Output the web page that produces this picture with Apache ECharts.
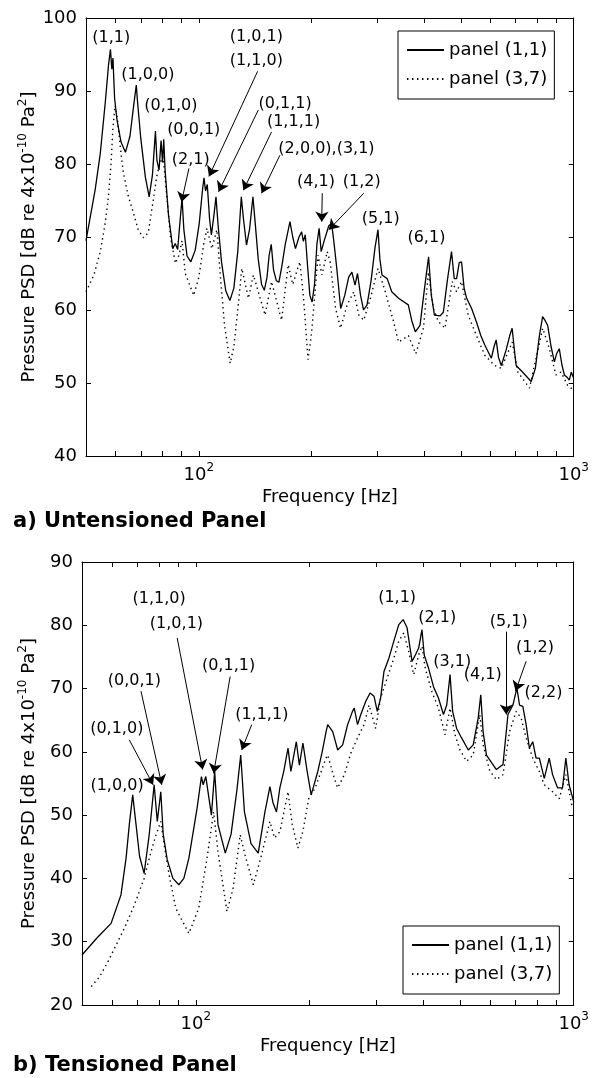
<!DOCTYPE html>
<html><head><meta charset="utf-8">
<script src="https://cdn.jsdelivr.net/npm/echarts@6/dist/echarts.min.js"></script>
<style>html,body{margin:0;padding:0;background:#fff}#c{width:592px;height:1078px}</style>
</head><body><div id="c"></div>
<script>
// ---------- data (frequency in Hz, PSD in dB) ----------
const seriesNames = ['panel (1,1)', 'panel (3,7)'];
const xTickHz = [60,70,80,90,100,200,300,400,500,600,700,800,900,1000];
const xLabelHz = [100, 1000];

const topSolidHz = [50,52.9,54.6,56.3,57.4,58.1,58.6,59.0,59.6,60.5,62,63.7,65.5,67,68.1,68.6,70,72,73.7,75.2,76.6,77.3,78.3,79.3,80,80.6,81.3,83,85.2,86.5,87.8,89.2,90.2,91.2,93,95.2,97.8,100.2,102.3,103.2,104.2,105.3,106.8,108,109.6,111.1,112.6,115,118,121,124,127,129.8,131.5,134,136.5,139.4,141.3,144,147,149.5,152,154,156,158.2,161,163.5,166.5,170,175,178,181,185,188,190,192.3,195,197.8,200.5,203.5,206.5,209.3,212,216,222,226,229,233,239,245,251,256,261,265,270,275,281,288,295,300.5,304,308,318,327,341,362,370,378,389,400,410,417,425,440,449,460,472,480,487,495,502,510,518,534,550,565,579,603,613,621,630,641,660,675,685,693,702,730,770,790,810,826,840,852,870,888,900,915,930,944,960,973,985,1000];
const topSolidDb = [69.5,76.5,81.5,88.5,93.5,95.7,93.0,94.5,89,86,83,81.6,83.8,88,90.8,88.6,83.5,78.2,75.5,78.5,84.5,80.5,79.2,83.2,80.2,83.4,79,73,68.4,69.1,68.3,72.5,75.3,71,67.4,66.6,68.2,71.8,76.5,78.1,76.3,77.2,72.5,70.3,72.8,75.5,71.5,66.5,62.6,61.3,63,68,75.5,72.5,68.9,71,75.5,72,67,63.5,62.7,64.5,67.5,69,65.5,64,63.8,66,69,72.1,70,68.4,70,70.7,69.4,70.3,66,62,61.1,63.5,69,71.2,68,69.5,71.5,71.9,69.5,66,60.2,62,64.5,65.2,63.4,65.0,62,60.0,60.7,64,68.5,71.0,67,64.8,64.3,62.5,61.6,60.7,58.5,57.0,57.9,63,67.3,62,59.3,59.2,59.7,64,68.0,64.3,64.3,66.5,66.6,63,61.6,60.2,58.4,56.5,55.2,53.4,55,55.9,53.5,52.4,54.5,56.5,57.5,55,52.4,51.5,50.2,52,56.5,59.1,58.5,57.9,55,52.9,54,54.7,52.5,51.1,50.8,50.4,51.5,50.6];

const topDottedHz = [50,52.5,54.6,56.3,57.5,58.3,59,59.8,60.7,61.7,62.9,64.9,66.9,68.9,71.1,73.3,75.6,77.2,78.7,80.3,82,84,86.6,88.5,90.2,92,96.9,100,103,105.1,108.3,111.7,114,117,121.2,124,127,130.2,135.6,139.8,150.2,156.3,166.2,173.1,178,185.9,190,195.6,200,207.9,213,220,224,231.6,238.8,248.6,259,267.1,275.4,286.8,300.5,314.3,330.7,340.9,362.3,379,397.2,409.6,422.3,435.4,453.5,474.2,486.9,501.9,523,550.1,579,615.3,640.8,685.4,709.6,761.9,826.6,861,896.6,924.6,963,1000];
const topDottedDb = [62.5,64.8,68,72,76,80,85,88,86,82.4,78.8,75.5,73.3,71,69.9,70.6,75.1,78.3,80.1,81,76,70,66.4,67.5,69.5,65,62,64.5,69,71.2,68.4,71,65,58,52.7,55,60,65.7,61.6,64.8,59.3,63.9,58.6,66.2,63.5,66.6,62,53.2,57,67.5,64.8,68,66.6,60.2,57.5,60.7,62.5,59.3,58.6,61.6,65.7,62.5,58.4,55.6,56.5,54,57.5,65.2,60.2,58.4,57.5,63.9,62.5,63.9,59.3,56.5,53.8,52.4,52,55.6,51.5,49.3,57.5,54.7,51.1,51.5,49.7,49];

const botSolidHz = [50,54.6,59.7,63.4,65.4,66.7,68.1,69.5,71,73,75.3,77.6,79.1,80.8,82,84,87,90.2,93,95.9,100.8,103.5,104.6,106.3,110,112.2,114.5,119.7,124,128.5,131.5,134.5,140,146.3,152.4,157.1,160,163.5,166.9,171,175.4,178.5,184.5,188,192.1,197,202,210.3,216,221.2,223.4,230.3,237.4,244.7,252.2,259.8,262.6,267.9,273.3,281.7,289.2,296.2,302.2,308.3,314.7,324.3,334.2,344.5,353.7,362.3,373.4,381,388.8,396.7,402.2,413,425.6,438.6,452.2,461.3,470.7,478.2,489.9,505,526,542,558.6,567.6,575.7,587.5,624.2,649.9,669.9,690.5,707.4,718.7,733.4,748.3,763.3,779.1,794.9,811,835.6,861.2,879.1,906.6,934,953.2,972.1,1000];
const botSolidDb = [27.9,30.5,32.9,37.4,43.2,48.5,53.2,48.5,43.5,40.8,46.9,54.8,49,53.7,47,43,40,39,40,43.2,51.1,56.1,54.8,56.1,50,56.9,48.5,44,47,54,59.5,50.5,45.5,44,50.5,54.5,52,50.5,54.3,57,60.6,56.9,61.6,57.9,61.4,57,53.2,56.9,60,63.2,64.3,63.2,60.3,61.1,64.3,66.4,66.9,64.3,65.9,68,69.3,68.8,66.4,68.5,72.7,74.8,77.5,80.1,80.9,79.6,74.3,75.3,76.4,79.3,75.3,73.2,70.3,68.5,65.9,67.4,72.2,66.4,63.7,62.2,60.3,61.1,65.3,69,63.2,59.5,57.2,58,65.9,67.4,70.1,67.4,67.2,64.3,60.6,61.6,59,59,55.8,59,56.4,54.3,54.3,59,54.8,52.1];

const botDottedHz = [52.9,55.7,58.5,61.6,64.7,68.8,73,76.1,78.5,80.8,82.5,85,88.5,95.9,101.8,107.1,111.5,114.5,120.9,125.5,131.1,135,142,148.5,157.1,161.5,167,175.4,180,186.3,192,199,207,221,223.4,232.6,237.4,247.2,257.2,267.9,278.8,287.4,299.2,308.3,321.1,334.2,344.5,355.1,365.9,377.2,388.8,396.7,404.7,421.5,438.6,456.6,470.7,485.2,500,520.7,542,564.2,575.7,599.4,624.2,649.9,676.4,704.3,726,748.3,779.1,811,835.6,879.1,915.2,953.2,992];
const botDottedDb = [22.9,24.5,26.8,29.5,32.1,35.8,40,44.2,46.9,49,45.3,40.6,35.3,31.3,35.3,43.2,50.5,44.2,34.8,38.4,46.9,43.7,39,43.2,49,46.4,47.4,53.7,48.5,44.8,47.4,52.6,54.3,59,59.5,55.8,54.3,56.4,59.8,62.2,64.3,67.4,63.7,68.5,71.7,74.8,77.5,78.8,75.9,72.2,75.3,76.7,73.2,69.5,66.9,62.7,66.9,62.7,60.3,58.5,59.5,65.9,61.1,57,55.6,56.4,63.2,66.4,65.3,62.2,59,56.9,54.8,53.7,52.6,56.4,51.1];

// mode annotations: [text, Hz, dB]
const topLabels = [['(1,1)',58.4,97.3],['(1,0,0)',73.1,92.2],['(0,1,0)',84.2,88.0],['(0,0,1)',96.9,84.7],['(2,1)',95.1,80.6],['(1,0,1)',142.4,97.4],['(1,1,0)',142.4,94.1],['(0,1,1)',169.9,88.2],['(1,1,1)',178.9,85.8],['(2,0,0),(3,1)',219,82.1],['(4,1)',205.3,77.6],['(1,2)',272.1,77.6],['(5,1)',305.5,72.5],['(6,1)',404.6,69.9]];
// arrows: [fromHz, fromDb, toHz, toDb]
const topArrows = [[94.1,79.4,89.9,74.8],[143.5,92.7,106.4,78.3],[144.1,87.4,112.9,76.2],[156.3,84.4,131.5,76.4],[164.5,81.2,147,76],[213.4,76,212.7,72.1],[275.4,76,222.3,71]];
const botLabels = [['(1,1,0)',80.0,84.1],['(1,0,1)',88.9,80.3],['(0,0,1)',68.8,71.3],['(0,1,0)',61.8,63.7],['(1,0,0)',61.9,54.7],['(0,1,1)',122.1,73.6],['(1,1,1)',149.5,65.8],['(1,1)',341,84.3],['(2,1)',435.2,81.1],['(3,1)',477,74.3],['(4,1)',574.6,72.2],['(5,1)',673.1,80.5],['(1,2)',790.2,76.4],['(2,2)',831.8,69.3]];
const botArrows = [[66.7,61.9,77.1,54.8],[71.6,69.6,81.3,54.8],[89.3,78,104.3,57.2],[123.3,71.9,111.5,56.6],[140.6,64.3,132.3,60.3],[663.1,79,663.1,65.9],[748.2,74.3,701.5,69.6]];

// ---------- chart ----------
const FONT = 'DejaVu Sans';
const zip = (xs, ys) => xs.map((x, i) => [x, ys[i]]);
const black = '#000';
const supRich = {sup: {fontSize: 12, lineHeight: 12, verticalAlign: 'top', fontFamily: FONT, color: black}};

function xAxes(g) {
  const base = {type: 'log', logBase: 10, gridIndex: g, min: 50, max: 1000,
    axisLine: {show: true, onZero: false, lineStyle: {color: black, width: 1}},
    axisTick: {show: true, inside: true, length: 5, customValues: xTickHz, lineStyle: {color: black, width: 1}},
    splitLine: {show: false}, minorTick: {show: false}, minorSplitLine: {show: false}};
  return [
    Object.assign({}, base, {position: 'bottom',
      axisLabel: {show: true, customValues: xLabelHz, margin: 6, color: black, fontSize: 18, fontFamily: FONT, lineHeight: 26,
        formatter: v => '10{sup|' + Math.round(Math.log10(v)) + '}', rich: supRich},
      name: 'Frequency [Hz]', nameLocation: 'middle', nameGap: 32, nameMoveOverlap: false,
      nameTextStyle: {fontSize: 18, fontFamily: FONT, color: black}}),
    Object.assign({}, base, {position: 'top', axisLabel: {show: false}})
  ];
}
function yAxes(g, mn, mx, gap) {
  const base = {type: 'value', gridIndex: g, min: mn, max: mx, interval: 10,
    axisLine: {show: true, onZero: false, lineStyle: {color: black, width: 1}},
    axisTick: {show: true, inside: true, length: 5, lineStyle: {color: black, width: 1}},
    splitLine: {show: false}};
  return [
    Object.assign({}, base, {position: 'left',
      axisLabel: {show: true, margin: 9, color: black, fontSize: 18, fontFamily: FONT},
      name: 'Pressure PSD [dB re 4x10{sup|-10} Pa{sup|2}]', nameLocation: 'middle', nameGap: gap, nameRotate: 90,
      nameMoveOverlap: false,
      nameTextStyle: {fontSize: 18, fontFamily: FONT, color: black, lineHeight: 24, rich: supRich}}),
    Object.assign({}, base, {position: 'right', axisLabel: {show: false}})
  ];
}
const solidStyle = {color: black, width: 1.3, type: 'solid'};
const dotStyle = {color: black, width: 1.4, type: [1.4, 3.6]};
function lineSeries(name, xi, yi, data, style) {
  return {type: 'line', name: name, xAxisIndex: xi, yAxisIndex: yi, data: data, symbol: 'none', showSymbol: false,
    lineStyle: style, itemStyle: {color: black}, silent: true, z: 3};
}
function annoSeries(xi, yi, labels, arrows) {
  return {type: 'scatter', xAxisIndex: xi, yAxisIndex: yi, symbolSize: 0, silent: true, z: 6,
    itemStyle: {color: black, opacity: 1},
    data: labels.map(a => [a[1], a[2], a[0]]),
    label: {show: true, position: 'inside', formatter: p => p.data[2], color: black, opacity: 1, fontSize: 16, fontFamily: FONT,
      textBorderWidth: 0, textBorderColor: 'transparent', textShadowBlur: 0},
    markLine: {silent: true, symbol: ['none', 'arrow'], symbolSize: 10, animation: false,
      lineStyle: {color: black, width: 1, type: 'solid', opacity: 1}, itemStyle: {color: black}, label: {show: false},
      emphasis: {disabled: true},
      data: arrows.map(a => [{coord: [a[0], a[1]], symbol: 'none'}, {coord: [a[2], a[3]], symbol: 'arrow', symbolSize: 10}])}};
}
const legendBase = {data: seriesNames, orient: 'vertical', itemWidth: 37, itemHeight: 14, itemGap: 11,
  padding: [10, 7, 11, 8], borderColor: black, borderWidth: 1, backgroundColor: '#fff', selectedMode: false,
  itemStyle: {color: 'rgba(0,0,0,0)', borderWidth: 0, opacity: 0},
  textStyle: {fontSize: 18, fontFamily: FONT, color: black}};

const option = {
  animation: false,
  backgroundColor: '#fff',
  title: [
    {text: 'a) Untensioned Panel', left: 8, top: 506, textStyle: {fontSize: 21, fontWeight: 'bold', fontFamily: FONT, color: black}},
    {text: 'b) Tensioned Panel', left: 8, top: 1050, textStyle: {fontSize: 21, fontWeight: 'bold', fontFamily: FONT, color: black}}
  ],
  legend: [
    Object.assign({}, legendBase, {left: 398, top: 31}),
    Object.assign({}, legendBase, {left: 403, top: 926})
  ],
  grid: [
    {left: 86, top: 18, width: 490, height: 438, containLabel: false},
    {left: 82, top: 562, width: 496, height: 443, containLabel: false}
  ],
  xAxis: [].concat(xAxes(0), xAxes(1)),
  yAxis: [].concat(yAxes(0, 40, 100, 45), yAxes(1, 20, 90, 41)),
  series: [
    lineSeries(seriesNames[0], 0, 0, zip(topSolidHz, topSolidDb), solidStyle),
    lineSeries(seriesNames[1], 0, 0, zip(topDottedHz, topDottedDb), dotStyle),
    annoSeries(0, 0, topLabels, topArrows),
    lineSeries(seriesNames[0], 2, 2, zip(botSolidHz, botSolidDb), solidStyle),
    lineSeries(seriesNames[1], 2, 2, zip(botDottedHz, botDottedDb), dotStyle),
    annoSeries(2, 2, botLabels, botArrows)
  ]
};
const chart = echarts.init(document.getElementById('c'), null, {renderer: 'canvas'});
chart.setOption(option);
</script></body></html>
